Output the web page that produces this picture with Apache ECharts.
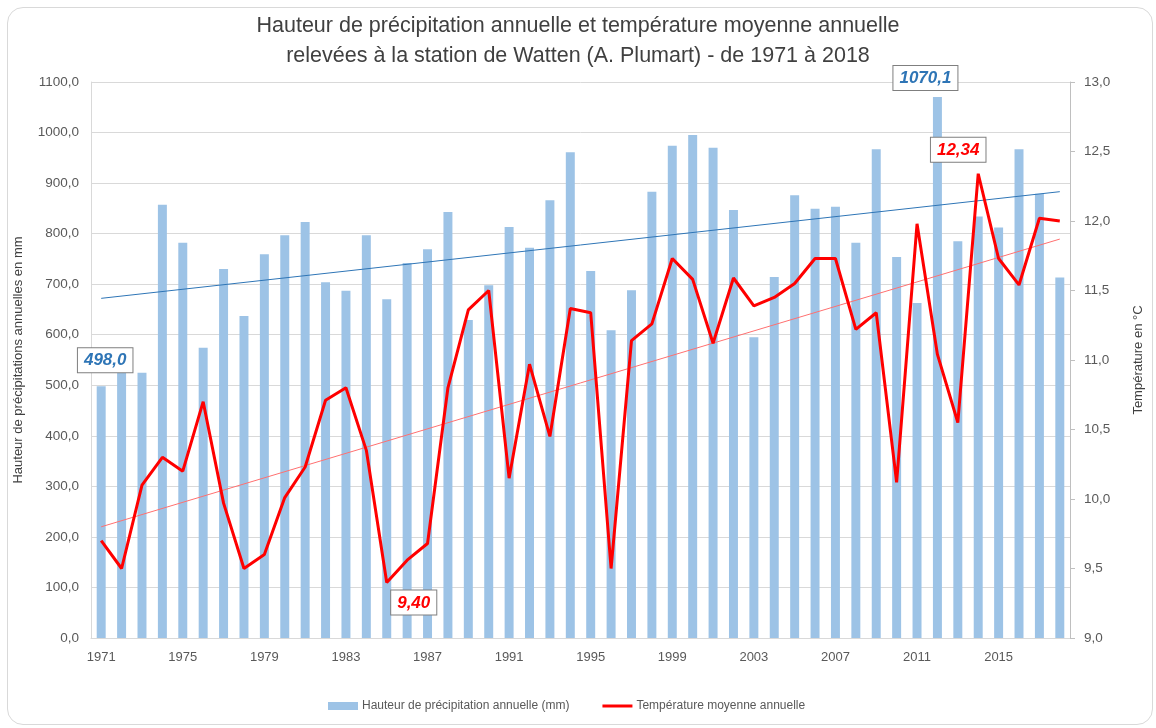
<!DOCTYPE html>
<html>
<head>
<meta charset="utf-8">
<script src="https://cdn.jsdelivr.net/npm/echarts@6/dist/echarts.min.js"></script>
<style>
  html, body { margin: 0; padding: 0; background: #fff; }
  #frame { position: absolute; left: 7px; top: 7px; width: 1146px; height: 718px; border: 1px solid #D9D9D9; border-radius: 16px; box-sizing: border-box; }
  #chart { position: absolute; left: 0; top: 0; width: 1156px; height: 728px; }
</style>
</head>
<body>
<div id="frame"></div>
<div id="chart"></div>
<script>
const years = ['1971','1972','1973','1974','1975','1976','1977','1978','1979','1980',
  '1981','1982','1983','1984','1985','1986','1987','1988','1989','1990',
  '1991','1992','1993','1994','1995','1996','1997','1998','1999','2000',
  '2001','2002','2003','2004','2005','2006','2007','2008','2009','2010',
  '2011','2012','2013','2014','2015','2016','2017','2018'];

const precipitation = [498.0, 530, 525, 857, 782, 574, 730, 637, 759, 797,
  823, 704, 687, 797, 670, 742, 769, 843, 629, 698,
  813, 772, 866, 961, 726, 609, 688, 883, 974, 995,
  970, 847, 595, 714, 876, 849, 853, 782, 967, 754,
  663, 1070.1, 785, 834, 812, 967, 879, 713];

const temperature = [9.70, 9.50, 10.10, 10.30, 10.20, 10.70, 9.97, 9.50, 9.60, 10.01,
  10.23, 10.71, 10.80, 10.35, 9.40, 9.56, 9.68, 10.80, 11.36, 11.50,
  10.15, 10.97, 10.45, 11.37, 11.34, 9.50, 11.14, 11.26, 11.73, 11.58,
  11.12, 11.59, 11.39, 11.45, 11.55, 11.73, 11.73, 11.22, 11.34, 10.12,
  11.98, 11.04, 10.55, 12.34, 11.73, 11.54, 12.02, 12.00];

// trend line end values (first and last year)
const precipTrend = [672, 883];
const tempTrend = [9.80, 11.87];

const precipName = 'Hauteur de précipitation annuelle (mm)';
const tempName = 'Température moyenne annuelle';

const FONT = 'Liberation Sans';
const comma = (v, d) => Number(v).toFixed(d).replace('.', ',');

const boxLabel = (color, extra) => Object.assign({
  show: true,
  color: color,
  fontFamily: FONT,
  fontSize: 17,
  fontStyle: 'italic',
  fontWeight: 'bold',
  backgroundColor: '#fff',
  borderColor: '#7F7F7F',
  borderWidth: 1,
  padding: [4, 6, 3, 6]
}, extra);

const chart = echarts.init(document.getElementById('chart'));
chart.setOption({
  animation: false,
  textStyle: { fontFamily: FONT },
  title: {
    text: 'Hauteur de précipitation annuelle et température moyenne annuelle\nrelevées à la station de Watten (A. Plumart) - de 1971 à 2018',
    left: 'center',
    top: 6,
    textStyle: { fontFamily: FONT, fontSize: 21.5, fontWeight: 'normal', color: '#404040', lineHeight: 30 }
  },
  legend: {
    bottom: 11,
    left: 323,
    itemWidth: 30,
    itemHeight: 8,
    itemGap: 33,
    textStyle: { fontFamily: FONT, fontSize: 12, color: '#595959', padding: [0, 0, 0, -1] },
    data: [
      { name: precipName, icon: 'rect' },
      { name: tempName, icon: 'path://M0,0 L30,0 L30,3 L0,3 Z' }
    ]
  },
  grid: { left: 91, right: 86, top: 82, bottom: 90 },
  xAxis: {
    type: 'category',
    data: years,
    axisLine: { lineStyle: { color: '#D9D9D9' } },
    axisTick: { show: false },
    axisLabel: { interval: 3, color: '#595959', fontSize: 13, margin: 13 }
  },
  yAxis: [{
    type: 'value',
    min: 0, max: 1100, interval: 100,
    name: 'Hauteur de précipitations annuelles en mm',
    nameLocation: 'middle',
    nameGap: 66,
    nameTextStyle: { fontSize: 13, color: '#404040' },
    axisLine: { show: true, lineStyle: { color: '#D9D9D9' } },
    axisTick: { show: false },
    axisLabel: { color: '#595959', fontSize: 13.5, margin: 12, formatter: v => comma(v, 1) },
    splitLine: { lineStyle: { color: '#D9D9D9' } }
  }, {
    type: 'value',
    min: 9, max: 13, interval: 0.5,
    name: 'Température en °C',
    nameLocation: 'middle',
    nameGap: 62,
    nameTextStyle: { fontSize: 13, color: '#404040' },
    axisLine: { show: true, lineStyle: { color: '#BFBFBF' } },
    axisTick: { show: true, length: 5, lineStyle: { color: '#BFBFBF' } },
    axisLabel: { color: '#595959', fontSize: 13.5, margin: 14, formatter: v => comma(v, 1) },
    splitLine: { show: false }
  }],
  series: [{
    name: precipName,
    type: 'bar',
    data: precipitation,
    barWidth: '44%',
    itemStyle: { color: '#9DC3E6' },
    z: 1,
    markPoint: {
      symbol: 'rect',
      symbolSize: 0,
      silent: true,
      data: [
        { type: 'max', label: boxLabel('#2E75B6', { position: 'top', distance: 7, offset: [-12, 0], formatter: p => comma(p.value, 1) }) },
        { type: 'min', label: boxLabel('#2E75B6', { position: 'top', distance: 14, offset: [4, 0], formatter: p => comma(p.value, 1) }) }
      ]
    }
  }, {
    name: 'trendP',
    type: 'line',
    data: [[years[0], precipTrend[0]], [years[years.length - 1], precipTrend[1]]],
    symbol: 'none',
    silent: true,
    lineStyle: { color: '#2E75B6', width: 1 },
    z: 3
  }, {
    name: 'trendT',
    type: 'line',
    yAxisIndex: 1,
    data: [[years[0], tempTrend[0]], [years[years.length - 1], tempTrend[1]]],
    symbol: 'none',
    silent: true,
    lineStyle: { color: '#FF7070', width: 1 },
    z: 3
  }, {
    name: tempName,
    type: 'line',
    yAxisIndex: 1,
    data: temperature,
    symbol: 'none',
    lineStyle: { color: '#FF0000', width: 3 },
    itemStyle: { color: '#FF0000' },
    z: 5,
    markPoint: {
      symbol: 'rect',
      symbolSize: 0,
      silent: true,
      data: [
        { type: 'max', label: boxLabel('#FF0000', { position: 'top', distance: 12, offset: [-20, 0], formatter: p => comma(p.value, 2) }) },
        { type: 'min', label: boxLabel('#FF0000', { position: 'bottom', distance: 8, offset: [27, 0], formatter: p => comma(p.value, 2) }) }
      ]
    }
  }]
});
</script>
</body>
</html>
